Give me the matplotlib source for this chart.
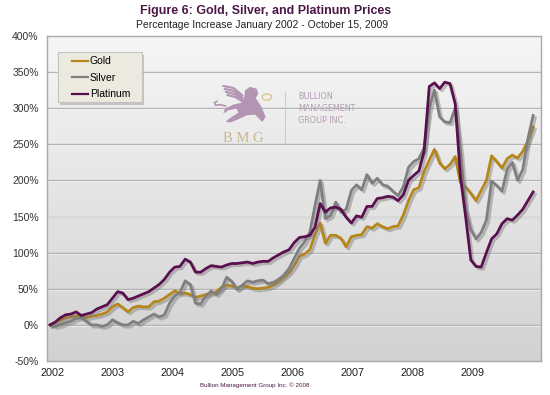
import numpy as np
import matplotlib
matplotlib.use("Agg")
import matplotlib.pyplot as plt
import matplotlib.patheffects as pe
from matplotlib.colors import LinearSegmentedColormap
from matplotlib.patches import Polygon, Rectangle
from matplotlib.lines import Line2D

# monthly % change since January 2002, Jan 2002 .. Oct 2009
gold = [0, 3, 7, 10, 11, 12, 11, 10, 12, 13, 15, 18,
        25, 29, 24, 18, 24, 26, 25, 25, 32, 33, 37, 42,
        47, 44, 44, 42, 38, 40, 42, 44, 46, 52, 55, 54,
        51, 54, 53, 51, 50, 51, 52, 55, 60, 66, 72, 82,
        95, 98, 104, 125, 141, 113, 124, 124, 120, 108, 122, 124,
        125, 136, 134, 140, 136, 133, 136, 137, 152, 172, 187, 190,
        212, 228, 243, 224, 216, 222, 233, 197, 191, 182, 172, 186,
        200, 234, 226, 217, 230, 235, 231, 240, 255, 274]
silver = [0, -2, 0, 3, 5, 9, 10, 5, 0, 0, -2, 0,
          7, 3, 0, 0, 5, 2, 7, 11, 15, 11, 14, 30,
          40, 45, 61, 56, 30, 29, 40, 47, 42, 50, 66, 60,
          49, 55, 61, 59, 61, 62, 57, 59, 63, 69, 78, 92,
          106, 115, 128, 165, 200, 147, 151, 170, 156, 160, 186, 194,
          187, 208, 196, 203, 194, 192, 185, 179, 191, 218, 226, 230,
          245, 300, 325, 288, 281, 280, 300, 240, 160, 132, 119, 128,
          145, 199, 193, 185, 215, 225, 200, 215, 258, 290]
platinum = [0, 4, 10, 14, 15, 18, 13, 15, 17, 22, 25, 28,
            37, 46, 44, 35, 37, 40, 43, 46, 51, 56, 63, 73,
            80, 81, 91, 87, 73, 73, 78, 82, 81, 80, 83, 85,
            85, 86, 87, 85, 87, 88, 88, 93, 97, 101, 104, 114,
            121, 122, 124, 135, 168, 156, 162, 163, 160, 149, 141, 151,
            149, 164, 164, 175, 176, 178, 177, 172, 180, 200, 207, 213,
            240, 330, 335, 327, 336, 334, 306, 205, 150, 90, 81, 80,
            100, 119, 126, 140, 147, 145, 152, 160, 172, 184]

years = ["2002", "2003", "2004", "2005", "2006", "2007", "2008", "2009"]
yticks = [-50, 0, 50, 100, 150, 200, 250, 300, 350, 400]
series_names = ["Gold", "Silver", "Platinum"]
series_colors = ["#b58619", "#7f7f7f", "#5a0f4f"]

months = np.arange(len(gold))

fig = plt.figure(figsize=(5.5, 3.95), dpi=100)
fig.patch.set_facecolor("white")
ax = fig.add_axes([0.0855, 0.086, 0.898, 0.823])

# plot area gradient, light at top to grey at bottom
cmap = LinearSegmentedColormap.from_list("bg", ["#d2d2d2", "#f6f6f6"])
grad = np.linspace(0, 1, 256).reshape(-1, 1)
ax.imshow(grad, extent=[0, 1, 0, 1], transform=ax.transAxes, aspect="auto",
          cmap=cmap, origin="lower", zorder=0)

ax.set_xlim(-0.6, 94.5)
ax.set_ylim(-50, 400)
for v in yticks[1:-1]:
    ax.axhline(v, color="#b3b3b3", lw=1.0, zorder=1)
    ax.axhline(v - 1.2, color="#fbfbfb", lw=0.6, alpha=0.7, zorder=1)


# --- BMG logo (rough griffin sketch), drawn in a small local frame ---
def logo_xy(pts):
    # local frame: 0..72 wide, 0..62 tall (y down), top-left at pixel (205, 82)
    pts = np.asarray(pts, dtype=float) / 3.0
    return np.column_stack([(205 + pts[:, 0] - 47) / 494, (361 - 82 - pts[:, 1]) / 325])


lilac = "#b395b3"
body = [(120, 25), (135, 15), (155, 20), (160, 35), (152, 48), (170, 75), (182, 105),
        (172, 120), (162, 110), (150, 98), (125, 100), (100, 112), (75, 122), (62, 118),
        (80, 105), (100, 92), (95, 80), (70, 85), (55, 95), (60, 80), (85, 68), (110, 62),
        (118, 45)]
ax.add_patch(Polygon(logo_xy(body), closed=True, transform=ax.transAxes, fc=lilac,
                     ec="none", zorder=2))
for k in range(4):
    wing = [(55 + 4 * k, 12 + 9 * k), (85 + 2 * k, 18 + 9 * k), (112, 40 + 6 * k)]
    xy = logo_xy(wing)
    ax.plot(xy[:, 0], xy[:, 1], transform=ax.transAxes, color=lilac, lw=1.6,
            solid_capstyle="round", zorder=2)
tail = logo_xy([(62, 72), (45, 68), (32, 70), (28, 62), (36, 58)])
ax.plot(tail[:, 0], tail[:, 1], transform=ax.transAxes, color=lilac, lw=1.2, zorder=2)
ax.add_patch(plt.Circle((0.445, 0.812), 0.0095, transform=ax.transAxes, fill=False,
                        ec="#d6c68e", lw=1.0, zorder=2))
ax.text(0.397, 0.686, "B M G", transform=ax.transAxes, fontsize=10.5,
        color="#c9b98f", family="Liberation Serif", ha="center", va="center", zorder=2)
ax.plot([0.482, 0.482], [0.672, 0.828], transform=ax.transAxes, color="#d8cfa8",
        lw=0.8, zorder=2)
for k, word in enumerate(["BULLION", "MANAGEMENT", "GROUP INC."]):
    ax.text(0.508, 0.815 - k * 0.038, word, transform=ax.transAxes, fontsize=5.8,
            color="#b49cb4", family="DejaVu Sans", va="center", zorder=2)

shadow = [pe.SimpleLineShadow(offset=(1.6, -1.6), shadow_color="#7a7a7a", alpha=0.45),
          pe.Normal()]
for vals, name, col, z in zip([gold, silver, platinum], series_names, series_colors, [3, 3, 4]):
    ax.plot(months, vals, color=col, lw=2.0, label=name, zorder=z,
            path_effects=shadow, solid_joinstyle="round")

ax.set_yticks(yticks)
ax.set_yticklabels([f"{v}%" for v in yticks], fontsize=7.5, color="#333333",
                   family="Liberation Sans")
ax.set_xticks(np.arange(len(years)) * 11.56 + 0.4)
ax.set_xticklabels(years, fontsize=7.8, color="#222222", family="Liberation Sans")
ax.tick_params(length=0, pad=6)
ax.tick_params(axis="x", pad=5)
for side, sp in ax.spines.items():
    sp.set_color("#a8a8a8")
    sp.set_linewidth(1.0)

# legend box drawn by hand so its padding matches the original
ax.add_patch(Rectangle((0.0263, 0.788), 0.170, 0.154, transform=ax.transAxes,
                       fc="#9a9a9a", ec="none", alpha=0.5, zorder=5))
ax.add_patch(Rectangle((0.0223, 0.797), 0.170, 0.154, transform=ax.transAxes,
                       fc="#eceade", ec="#c4c4c4", lw=0.8, zorder=5))
handles = [Line2D([], [], color=c, lw=1.6) for c in series_colors]
leg = ax.legend(handles, series_names, loc="upper left", bbox_to_anchor=(0.05, 0.937),
                borderaxespad=0, borderpad=0, handlelength=1.6, handletextpad=0.15,
                labelspacing=0.62, frameon=False,
                prop={"family": "Liberation Sans", "size": 7.5})
leg.set_zorder(6)

fig.text(0.482, 0.972, "Figure 6: Gold, Silver, and Platinum Prices", ha="center",
         va="center", fontsize=8.9, fontweight="bold", color="#4c1746", family="Liberation Sans")
fig.text(0.476, 0.937, "Percentage Increase January 2002 - October 15, 2009", ha="center",
         va="center", fontsize=7.5, color="#222222", family="Liberation Sans")
fig.text(0.464, 0.025, "Bullion Management Group Inc. \u00a9 2008", ha="center", va="center",
         fontsize=4.5, color="#4c1746", family="Liberation Sans")

fig.savefig("out.png", dpi=100)
